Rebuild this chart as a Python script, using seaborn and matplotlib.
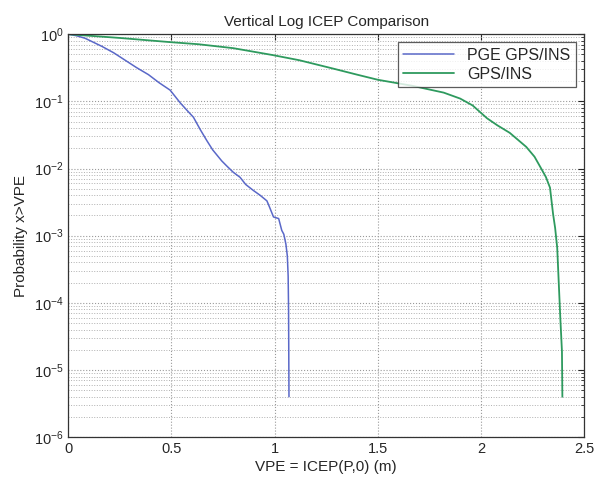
import matplotlib
matplotlib.use('Agg')
import matplotlib.pyplot as plt
from matplotlib.ticker import LogLocator, MultipleLocator
import seaborn as sns
import pandas as pd
import numpy as np

# PGE GPS/INS curve
pge_x = [0.0, 0.04, 0.082, 0.163, 0.22, 0.276, 0.33, 0.389, 0.44, 0.494, 0.543, 0.575,
         0.607, 0.64, 0.672, 0.70, 0.744, 0.77, 0.80, 0.833, 0.86, 0.898, 0.93, 0.963,
         0.975, 0.995, 1.02, 1.035, 1.045, 1.055, 1.062, 1.066, 1.068, 1.07]
pge_p = [1.0, 0.95, 0.87, 0.66, 0.53, 0.41, 0.32, 0.25, 0.19, 0.147, 0.095, 0.074,
         0.058, 0.038, 0.026, 0.019, 0.013, 0.0108, 0.0088, 0.0074, 0.0058, 0.0047, 0.0040,
         0.0033, 0.0027, 0.0019, 0.0018, 0.0012, 0.00105, 7.5e-4, 5e-4, 2.5e-4, 8e-5, 4e-6]

# GPS/INS curve
gps_x = [0.0, 0.25, 0.50, 0.63, 0.80, 0.99, 1.12, 1.28, 1.40, 1.50, 1.67, 1.82, 1.90, 1.96,
         2.03, 2.08, 2.14, 2.22, 2.26, 2.29, 2.315, 2.335, 2.35, 2.36, 2.37, 2.385, 2.393,
         2.395]
gps_p = [1.0, 0.88, 0.76, 0.71, 0.62, 0.49, 0.41, 0.31, 0.25, 0.21, 0.17, 0.135, 0.11,
         0.087, 0.056, 0.044, 0.034, 0.021, 0.015, 0.0103, 0.0075, 0.0052, 0.0021, 0.0013,
         6.6e-4, 6e-5, 1.9e-5, 4e-6]

sns.set_style('white')
plt.rcParams['font.family'] = ['Liberation Sans', 'DejaVu Sans']
plt.rcParams['mathtext.fontset'] = 'custom'
plt.rcParams['mathtext.rm'] = 'Liberation Sans'

fig = plt.figure(figsize=(6.09, 4.82), dpi=100)
ax = fig.add_axes([0.112, 0.093, 0.847, 0.836])

df_pge = pd.DataFrame({'x': pge_x, 'p': pge_p})
df_gps = pd.DataFrame({'x': gps_x, 'p': gps_p})
sns.lineplot(data=df_pge, x='x', y='p', ax=ax, color='#5a68c8', lw=1.1,
             estimator=None, sort=False, label='PGE GPS/INS')
sns.lineplot(data=df_gps, x='x', y='p', ax=ax, color='#2e9a5e', lw=1.3,
             estimator=None, sort=False, label='GPS/INS')

ax.set_yscale('log')
ax.set_xlim(0, 2.5)
ax.set_ylim(1e-6, 1)
ax.xaxis.set_major_locator(MultipleLocator(0.5))
ax.yaxis.set_major_locator(LogLocator(base=10, numticks=10))
ax.yaxis.set_minor_locator(LogLocator(base=10, subs=np.arange(2, 10), numticks=20))
ax.set_xticks([0, 0.5, 1, 1.5, 2, 2.5])
ax.set_xticklabels(['0', '0.5', '1', '1.5', '2', '2.5'])
ax.xaxis.get_offset_text().set_visible(False)

ax.grid(True, which='major', color='#9a9a9a', ls=':', lw=0.8)
ax.grid(True, which='minor', axis='y', color='#b0b0b0', ls=':', lw=0.7)
ax.tick_params(which='both', direction='in', top=True, right=True, labelsize=10.5)
ax.tick_params(which='major', length=4)
ax.tick_params(which='minor', length=2)
for s in ax.spines.values():
    s.set_color('#333333')
    s.set_linewidth(0.9)

ax.set_title('Vertical Log ICEP Comparison', fontsize=11)
ax.set_xlabel('VPE = ICEP(P,0) (m)', fontsize=11, labelpad=3)
ax.set_ylabel('Probability x>VPE', fontsize=11)

leg = ax.legend(loc='upper right', fontsize=11.5, frameon=True, fancybox=False,
                borderaxespad=0.5, handlelength=3.2, borderpad=0.35, labelspacing=0.25)
leg.get_frame().set_edgecolor('#333333')
leg.get_frame().set_linewidth(0.9)

plt.savefig('out.png', dpi=100)
